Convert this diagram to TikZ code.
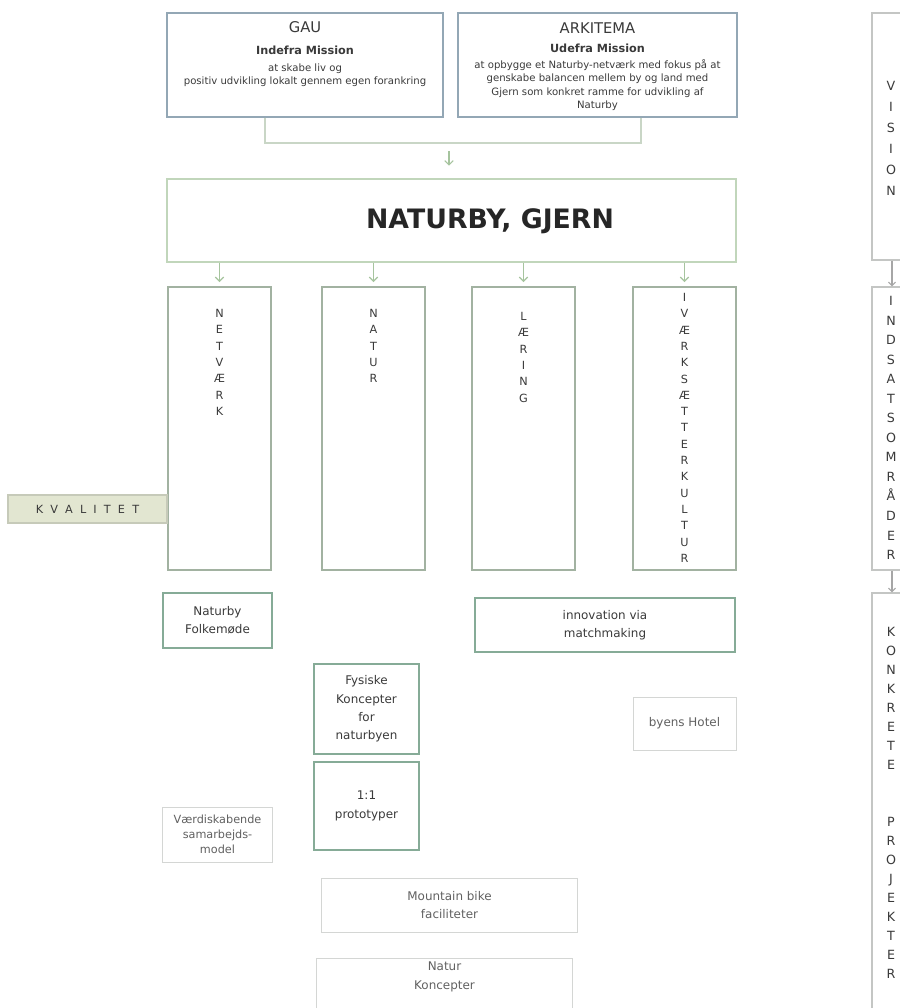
\documentclass[tikz,border=0pt]{standalone}
\usepackage{fontspec}
\setmainfont{DejaVu Sans}
\usetikzlibrary{arrows.meta,positioning,backgrounds}

\definecolor{topblue}{HTML}{93A7B5}
\definecolor{colgreen}{HTML}{A2B2A1}
\definecolor{strongc}{HTML}{86AB97}
\definecolor{lightc}{HTML}{D4D6D4}
\definecolor{sidec}{HTML}{C4C6C4}
\definecolor{arrc}{HTML}{A6C49E}
\definecolor{linkc}{HTML}{C9D6C6}
\definecolor{bandc}{HTML}{E2E6D1}
\definecolor{bandb}{HTML}{C6CAB9}
\definecolor{txt}{HTML}{3A3A3A}

\tikzset{
  topbox/.style={draw=topblue, line width=1pt, inner sep=0pt},
  boxtext/.style={anchor=north, align=center, inner sep=0pt, font=\fontsize{7.2}{9.6}\selectfont},
  mainbox/.style={draw=arrc!70!white, line width=1pt, inner sep=0pt},
  colbox/.style={draw=colgreen, line width=1pt, fill=white, inner sep=0pt, minimum width=2.575cm, minimum height=7.075cm},
  sidebox/.style={draw=sidec, line width=0.8pt, inner sep=0pt, minimum width=1cm},
  letters/.style={anchor=north, align=center, inner sep=0pt, font=\fontsize{8}{11.6}\selectfont},
  strongbox/.style={draw=strongc, line width=2pt, fill=white, align=center, inner sep=0pt, font=\fontsize{8.5}{13}\selectfont},
  lightbox/.style={draw=lightc, line width=0.7pt, fill=white, align=center, inner sep=0pt, text=txt!80, font=\fontsize{8.5}{13}\selectfont},
  arr/.style={draw=arrc, line width=0.8pt, -{Straight Barb[length=3pt,width=6pt]}},
  sidearr/.style={draw=gray!70, line width=0.8pt, -{Straight Barb[length=2.5pt,width=5pt]}},
  link/.style={draw=linkc, line width=0.9pt},
}

\begin{document}
\begin{tikzpicture}[x=0.025cm, y=-0.025cm, text=txt]
\path[use as bounding box, fill=white] (0,0) rectangle (900,1008);

% missions
\node[topbox, minimum width=6.9cm, minimum height=2.6cm] (gau) at (305,65) {};
\node[boxtext] (gautxt) at (305,21) {{\fontsize{10.5}{12}\selectfont GAU}\\[6pt]{\bfseries\fontsize{8}{9.6}\selectfont Indefra Mission}\\[2.5pt]at skabe liv og\\positiv udvikling lokalt gennem egen forankring};
\node[topbox, minimum width=6.975cm, minimum height=2.6cm] (arki) at (597.5,65) {};
\node[boxtext] (arkitxt) at (597.5,22) {{\fontsize{10.5}{12}\selectfont ARKITEMA}\\[4pt]{\bfseries\fontsize{8}{9.6}\selectfont Udefra Mission}\\[2pt]at opbygge et Naturby-netværk med fokus på at\\genskabe balancen mellem by og land med\\Gjern som konkret ramme for udvikling af\\Naturby};

% naturby
\node[mainbox, minimum width=14.225cm, minimum height=2.075cm] (naturby) at (451.5,220.5) {};
\node[inner sep=0pt, text=black!85, font=\bfseries\fontsize{19}{24}\selectfont] (title) at (490,221) {NATURBY, GJERN};

\coordinate (jl) at (265,143);
\coordinate (jr) at (641,143);
\coordinate (jm) at (449,151);
\draw[link] (gau.south -| jl) -- (jl) -- (jr) -- (arki.south -| jr);
\draw[arr, shorten >=9pt] (jm) -- (jm |- naturby.north);

% indsatsomraader
\node[colbox] (netvaerk) at (219.5,428.5) {};
\node[colbox] (natur) at (373.5,428.5) {};
\node[colbox] (laering) at (523.5,428.5) {};
\node[colbox] (ivaerk) at (684.5,428.5) {};
\node[letters] (tnet) at (219.5,309) {N\\E\\T\\V\\Æ\\R\\K};
\node[letters] (tnat) at (373.5,309) {N\\A\\T\\U\\R};
\node[letters] (tlaer) at (523.5,312) {L\\Æ\\R\\I\\N\\G};
\node[letters] (tiv) at (684.5,293) {I\\V\\Æ\\R\\K\\S\\Æ\\T\\T\\E\\R\\K\\U\\L\\T\\U\\R};
\foreach \c in {netvaerk,natur,laering,ivaerk}
  \draw[arr, shorten >=3pt] (naturby.south -| \c.north) -- (\c.north);

% kvalitet
\node[draw=bandb, fill=bandc, line width=0.8pt, minimum width=3.975cm, minimum height=0.7cm, inner sep=0pt,
      font=\fontsize{8}{10}\selectfont] (kval) at (87.5,509) {K \ V \ A \ L \ I \ T \ E \ T};
\begin{scope}[on background layer]
  \filldraw[fill=bandc, draw=bandb!70, line width=0.6pt] ([yshift=-2pt]kval.north east) rectangle ([yshift=-2pt]kval.south -| ivaerk.west);
\end{scope}

% projekter
\node[strongbox, minimum width=2.725cm, minimum height=1.375cm] (folke) at (217.5,620.5) {Naturby\\Folkemøde};
\node[strongbox, minimum width=6.5cm, minimum height=1.35cm] (innov) at (605,625) {innovation via\\matchmaking};
\node[strongbox, minimum width=2.625cm, minimum height=2.25cm] (fysiske) at (366.5,709) {Fysiske\\Koncepter\\for\\naturbyen};
\node[strongbox, minimum width=2.625cm, minimum height=2.2cm] (proto) at (366.5,806) {1:1\\prototyper};
\node[lightbox, minimum width=2.575cm, minimum height=1.325cm] (hotel) at (684.5,723.5) {byens Hotel};
\node[lightbox, minimum width=2.725cm, minimum height=1.375cm, font=\fontsize{8}{10.6}\selectfont] (vaerdi) at (217.5,834.5) {Værdiskabende\\samarbejds-\\model};
\node[lightbox, minimum width=6.375cm, minimum height=1.35cm] (mtb) at (449.5,905) {Mountain bike\\faciliteter};
\node[lightbox, minimum width=6.375cm, minimum height=1.35cm, anchor=north] (naturk) at (444.5,958) {};
\node[align=center, inner sep=0pt, text=txt!80, font=\fontsize{8.5}{14}\selectfont] (naturktxt) at (444.5,977) {Natur\\Koncepter};

% hoejre side
\node[sidebox, minimum height=6.175cm] (vision) at (892,136.5) {};
\node[sidebox, minimum height=7.075cm] (indsats) at (892,428.5) {};
\node[sidebox, minimum height=10.425cm] (konkret) at (892,801.5) {};
\node[letters, font=\fontsize{9}{14.9}\selectfont] (tvis) at (891,81) {V\\I\\S\\I\\O\\N};
\node[letters, font=\fontsize{9}{13.9}\selectfont] (tind) at (891,296) {I\\N\\D\\S\\A\\T\\S\\O\\M\\R\\Å\\D\\E\\R};
\node[letters, font=\fontsize{9}{13.5}\selectfont] (tkon) at (891,627) {K\\O\\N\\K\\R\\E\\T\\E\\[27pt]P\\R\\O\\J\\E\\K\\T\\E\\R};
\draw[sidearr] (vision.south) -- (indsats.north);
\draw[sidearr] (indsats.south) -- (konkret.north);
\end{tikzpicture}
\end{document}
